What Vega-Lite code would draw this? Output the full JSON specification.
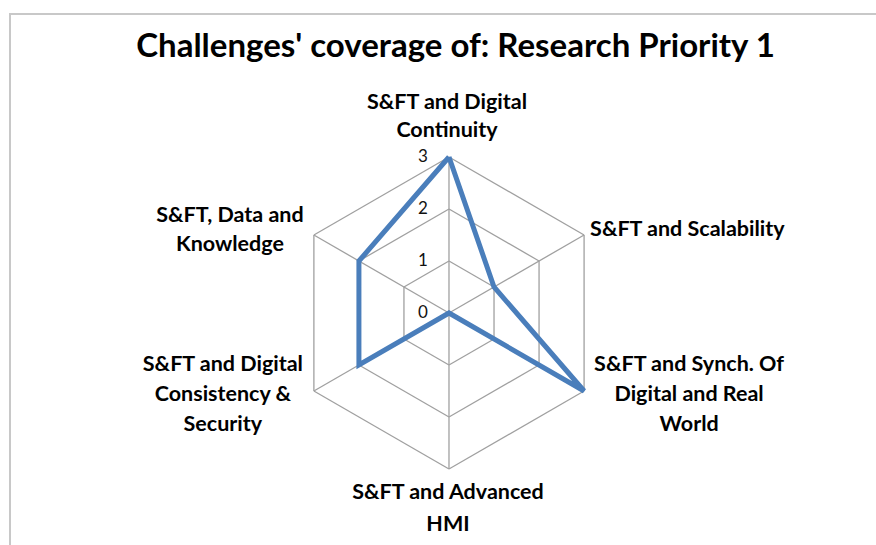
{
  "$schema": "https://vega.github.io/schema/vega-lite/v6.json",
  "width": 880,
  "height": 545,
  "autosize": {"type": "none"},
  "padding": {"left": 10, "top": 14, "right": 0, "bottom": 0},
  "background": "white",
  "config": {"view": {"stroke": "#c8c8c8", "strokeWidth": 2}, "font": "Lato"},
  "title": {"text": "Challenges' coverage of: Research Priority 1", "font": "Lato", "fontSize": 33, "fontWeight": "bold", "color": "#000000", "anchor": "middle", "offset": -50, "dx": 5.5},
  "datasets": {
    "axes": [
      {"idx": 0, "challenge": "S&FT and Digital\nContinuity", "value": 3},
      {"idx": 1, "challenge": "S&FT and Scalability", "value": 1},
      {"idx": 2, "challenge": "S&FT and Synch. Of\nDigital and Real\nWorld", "value": 3},
      {"idx": 3, "challenge": "S&FT and Advanced\nHMI", "value": 0},
      {"idx": 4, "challenge": "S&FT and Digital\nConsistency &\nSecurity", "value": 2},
      {"idx": 5, "challenge": "S&FT, Data and\nKnowledge", "value": 2}
    ]
  },
  "data": {"name": "axes"},
  "transform": [{"calculate": "datum.idx * PI / 3", "as": "ang"}],
  "encoding": {
    "x": {"field": "px", "type": "quantitative", "scale": {"domain": [-8.442, 8.481], "nice": false, "zero": false}, "axis": null},
    "y": {"field": "py", "type": "quantitative", "scale": {"domain": [-4.731, 5.75], "nice": false, "zero": false}, "axis": null}
  },
  "layer": [
    {
      "transform": [
        {"calculate": "[1, 2, 3]", "as": "lv"},
        {"flatten": ["lv"]},
        {"calculate": "datum.lv * sin(datum.ang)", "as": "px"},
        {"calculate": "datum.lv * cos(datum.ang)", "as": "py"},
        {"calculate": "datum.lv * sin(datum.ang + PI / 3)", "as": "px2"},
        {"calculate": "datum.lv * cos(datum.ang + PI / 3)", "as": "py2"}
      ],
      "mark": {"type": "rule", "color": "#a0a0a0", "strokeWidth": 1.3},
      "encoding": {"x2": {"field": "px2"}, "y2": {"field": "py2"}}
    },
    {
      "transform": [
        {"calculate": "3 * sin(datum.ang)", "as": "px"},
        {"calculate": "3 * cos(datum.ang)", "as": "py"},
        {"calculate": "0", "as": "ox"},
        {"calculate": "0", "as": "oy"}
      ],
      "mark": {"type": "rule", "color": "#a0a0a0", "strokeWidth": 1.3},
      "encoding": {"x2": {"field": "ox"}, "y2": {"field": "oy"}}
    },
    {
      "transform": [
        {"calculate": "datum.idx == 0 ? [0, 6] : [datum.idx]", "as": "ord"},
        {"flatten": ["ord"]},
        {"calculate": "datum.value * sin(datum.ang)", "as": "px"},
        {"calculate": "datum.value * cos(datum.ang)", "as": "py"}
      ],
      "mark": {"type": "line", "color": "#4a7ebb", "strokeWidth": 5, "strokeJoin": "miter"},
      "encoding": {"order": {"field": "ord", "type": "quantitative"}}
    },
    {
      "transform": [
        {"filter": "datum.idx == 0"},
        {"calculate": "[0, 1, 2, 3]", "as": "lv"},
        {"flatten": ["lv"]},
        {"calculate": "0", "as": "px"},
        {"calculate": "datum.lv", "as": "py"}
      ],
      "mark": {"type": "text", "align": "right", "baseline": "middle", "dx": -21, "fontSize": 17, "font": "Lato", "color": "#111111"},
      "encoding": {"text": {"field": "lv", "type": "quantitative"}}
    },
    {
      "transform": [{"filter": "datum.idx == 0"}, {"calculate": "3 * sin(datum.ang)", "as": "px"}, {"calculate": "3 * cos(datum.ang)", "as": "py"}],
      "mark": {"type": "text", "align": "center", "baseline": "middle", "dx": -2, "dy": -54, "lineBreak": "\n", "lineHeight": 28, "fontSize": 21.5, "fontWeight": "bold", "font": "Lato", "color": "#000000"},
      "encoding": {"text": {"field": "challenge", "type": "nominal"}}
    },
    {
      "transform": [{"filter": "datum.idx == 1"}, {"calculate": "3 * sin(datum.ang)", "as": "px"}, {"calculate": "3 * cos(datum.ang)", "as": "py"}],
      "mark": {"type": "text", "align": "left", "baseline": "middle", "dx": 6, "dy": -5, "lineBreak": "\n", "lineHeight": 29, "fontSize": 21.5, "fontWeight": "bold", "font": "Lato", "color": "#000000"},
      "encoding": {"text": {"field": "challenge", "type": "nominal"}}
    },
    {
      "transform": [{"filter": "datum.idx == 2"}, {"calculate": "3 * sin(datum.ang)", "as": "px"}, {"calculate": "3 * cos(datum.ang)", "as": "py"}],
      "mark": {"type": "text", "align": "center", "baseline": "middle", "dx": 105, "dy": -26, "lineBreak": "\n", "lineHeight": 30, "fontSize": 21.5, "fontWeight": "bold", "font": "Lato", "color": "#000000"},
      "encoding": {"text": {"field": "challenge", "type": "nominal"}}
    },
    {
      "transform": [{"filter": "datum.idx == 3"}, {"calculate": "3 * sin(datum.ang)", "as": "px"}, {"calculate": "3 * cos(datum.ang)", "as": "py"}],
      "mark": {"type": "text", "align": "center", "baseline": "middle", "dx": -1, "dy": 24, "lineBreak": "\n", "lineHeight": 32, "fontSize": 21.5, "fontWeight": "bold", "font": "Lato", "color": "#000000"},
      "encoding": {"text": {"field": "challenge", "type": "nominal"}}
    },
    {
      "transform": [{"filter": "datum.idx == 4"}, {"calculate": "3 * sin(datum.ang)", "as": "px"}, {"calculate": "3 * cos(datum.ang)", "as": "py"}],
      "mark": {"type": "text", "align": "center", "baseline": "middle", "dx": -91, "dy": -26, "lineBreak": "\n", "lineHeight": 30, "fontSize": 21.5, "fontWeight": "bold", "font": "Lato", "color": "#000000"},
      "encoding": {"text": {"field": "challenge", "type": "nominal"}}
    },
    {
      "transform": [{"filter": "datum.idx == 5"}, {"calculate": "3 * sin(datum.ang)", "as": "px"}, {"calculate": "3 * cos(datum.ang)", "as": "py"}],
      "mark": {"type": "text", "align": "center", "baseline": "middle", "dx": -84, "dy": -19, "lineBreak": "\n", "lineHeight": 29, "fontSize": 21.5, "fontWeight": "bold", "font": "Lato", "color": "#000000"},
      "encoding": {"text": {"field": "challenge", "type": "nominal"}}
    }
  ]
}
